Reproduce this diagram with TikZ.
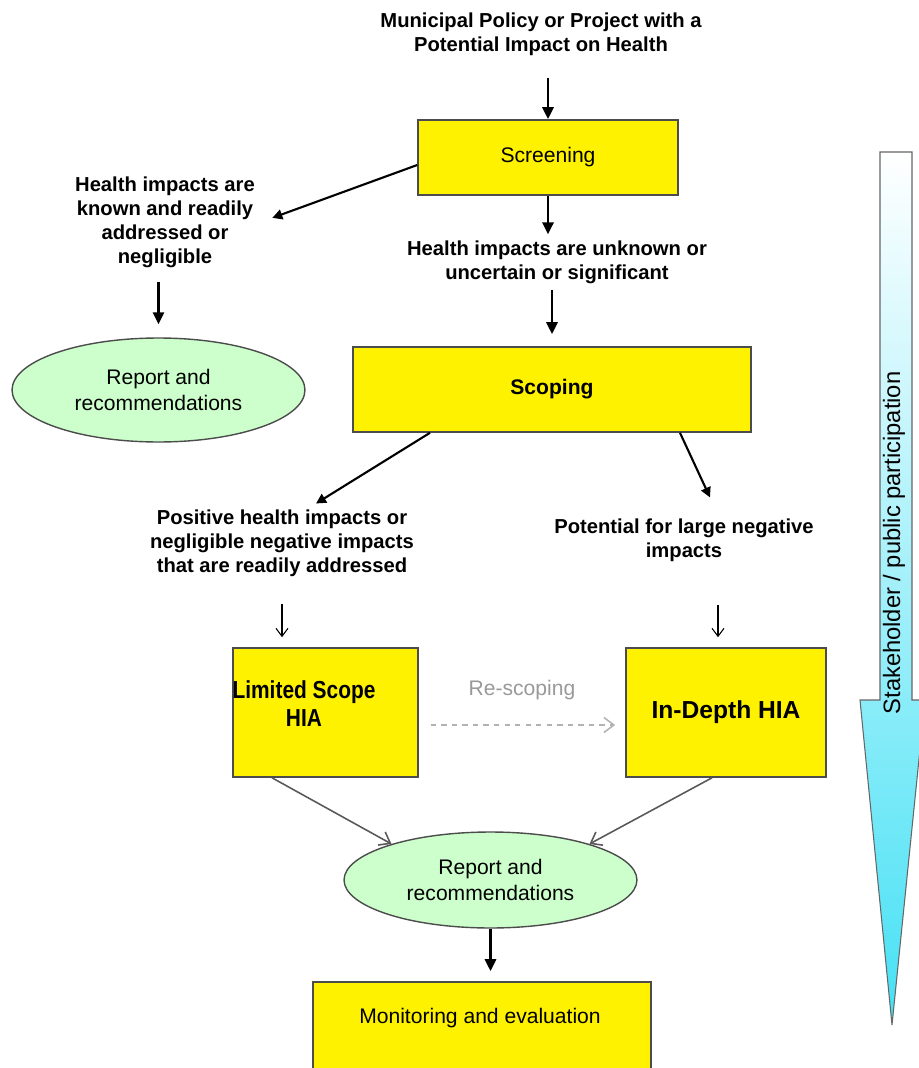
\documentclass[tikz,border=0pt]{standalone}
\usepackage{fontspec}
\setmainfont{Liberation Sans}
\newfontfamily\narrowfont{Liberation Sans}[FakeStretch=0.85]
\usetikzlibrary{arrows.meta,shapes.geometric}

\tikzset{
  box/.style={draw=black!70, line width=0.9pt, fill=yellow, inner sep=0pt, align=center},
  report/.style={ellipse, draw=black!70, line width=0.8pt, fill={rgb,255:red,204;green,255;blue,204}, align=center, inner sep=0pt, font=\fontsize{12}{15}\selectfont},
  caption/.style={align=center, font=\bfseries\fontsize{11.5}{13.6}\selectfont},
  hia/.style={align=center, font=\bfseries\fontsize{14}{16}\selectfont},
  plain/.style={font=\fontsize{12}{14}\selectfont},
  bigarrow/.style={line width=1.6pt, -{Triangle[length=2.4mm,width=2.2mm]}},
  midarrow/.style={line width=1.2pt, -{Triangle[length=2mm,width=2mm]}},
  thinarrow/.style={line width=0.6pt, -{Straight Barb[length=1.6mm,width=2.4mm]}},
  grayarrow/.style={line width=0.9pt, draw=black!65, -{Straight Barb[length=2mm,width=3mm]}}
}

\begin{document}
\begin{tikzpicture}[x=0.02cm,y=-0.02cm]
\useasboundingbox (0,0) rectangle (919,1068);
\clip (0,0) rectangle (919,1068);
% stakeholder arrow
\shade[top color=white, bottom color={rgb,255:red,70;green,225;blue,245}, draw=black!60, line width=0.6pt] (880,152) -- (912,152) -- (912,700) -- (925,700) -- (892,1025) -- (860,700) -- (880,700) -- cycle;
\node[rotate=90, font=\fontsize{13.5}{15}\selectfont] (stake) at (894,543) {Stakeholder / public participation};
% nodes
\node[caption] (source) at (541,34) {Municipal Policy or Project with a\\Potential Impact on Health};
\node[box, plain, minimum width=5.2cm, minimum height=1.5cm] (screen) at (548,157.5) {Screening};
\node[caption] (known) at (165,222) {Health impacts are\\known and readily\\addressed or\\negligible};
\node[report, minimum width=5.86cm, minimum height=2.08cm] (leftreport) at (158.5,390) {Report and\\recommendations};
\node[caption] (unknown) at (557,262) {Health impacts are unknown or\\uncertain or significant};
\node[box, font=\bfseries\fontsize{12}{14}\selectfont, minimum width=7.96cm, minimum height=1.7cm] (scoping) at (552,389.5) {Scoping};
\node[caption] (positive) at (282,543) {Positive health impacts or\\negligible negative impacts\\that are readily addressed};
\node[caption] (large) at (684,540) {Potential for large negative\\impacts};
\node[box, minimum width=3.7cm, minimum height=2.58cm] (limited) at (325.5,712.5) {};
\node[hia, font=\narrowfont\bfseries\fontsize{14}{16}\selectfont] (limitedtext) at (304,704) {Limited Scope\\HIA};
\node[box, hia, minimum width=4cm, minimum height=2.58cm] (indepth) at (726,712.5) {In-Depth HIA};
\node[plain, text=black!40] (rescope) at (522,690) {Re-scoping};
\node[report, minimum width=5.86cm, minimum height=1.92cm] (report) at (490.5,880) {Report and\\recommendations};
\node[box, minimum width=6.76cm, minimum height=2.4cm] (monitor) at (482,1042) {};
\node[plain] (monitortext) at (480,1018) {Monitoring and evaluation};
\coordinate (depthtop) at ([xshift=-0.16cm]indepth.north);
% connectors
\draw[bigarrow, shorten <=0.32cm] (screen.north |- source.south) -- (screen.north);
\draw[midarrow, shorten >=0.24cm] ([yshift=-0.15cm]screen.west) -- (known.east);
\draw[bigarrow, shorten <=0.16cm, shorten >=0.26cm] (leftreport.north |- known.south) -- (leftreport.north);
\draw[bigarrow] (screen.south) -- (screen.south |- unknown.north);
\draw[bigarrow, shorten >=0.24cm] (scoping.north |- unknown.south) -- (scoping.north);
\draw[midarrow] ([xshift=-2.44cm]scoping.south) -- ([xshift=0.68cm]positive.north);
\draw[midarrow] ([xshift=2.56cm]scoping.south) -- ([xshift=0.52cm,yshift=0.3cm]large.north);
\draw[thinarrow, shorten <=0.42cm, shorten >=0.2cm] (positive.south) -- (positive.south |- limited.north);
\draw[thinarrow, shorten <=0.74cm, shorten >=0.2cm] (depthtop |- large.south) -- (depthtop);
\draw[dashed, draw=black!30, line width=0.9pt, -{Straight Barb[length=2mm,width=3mm]}, shorten <=0.24cm, shorten >=0.2cm] ([yshift=-0.25cm]limited.east) -- ([yshift=-0.25cm]indepth.west);
\draw[grayarrow] ([xshift=-1.07cm]limited.south) -- (report.160);
\draw[grayarrow] ([xshift=-0.28cm]indepth.south) -- (report.20);
\draw[bigarrow, shorten >=0.2cm] (report.south) -- (report.south |- monitor.north);
\end{tikzpicture}
\end{document}
